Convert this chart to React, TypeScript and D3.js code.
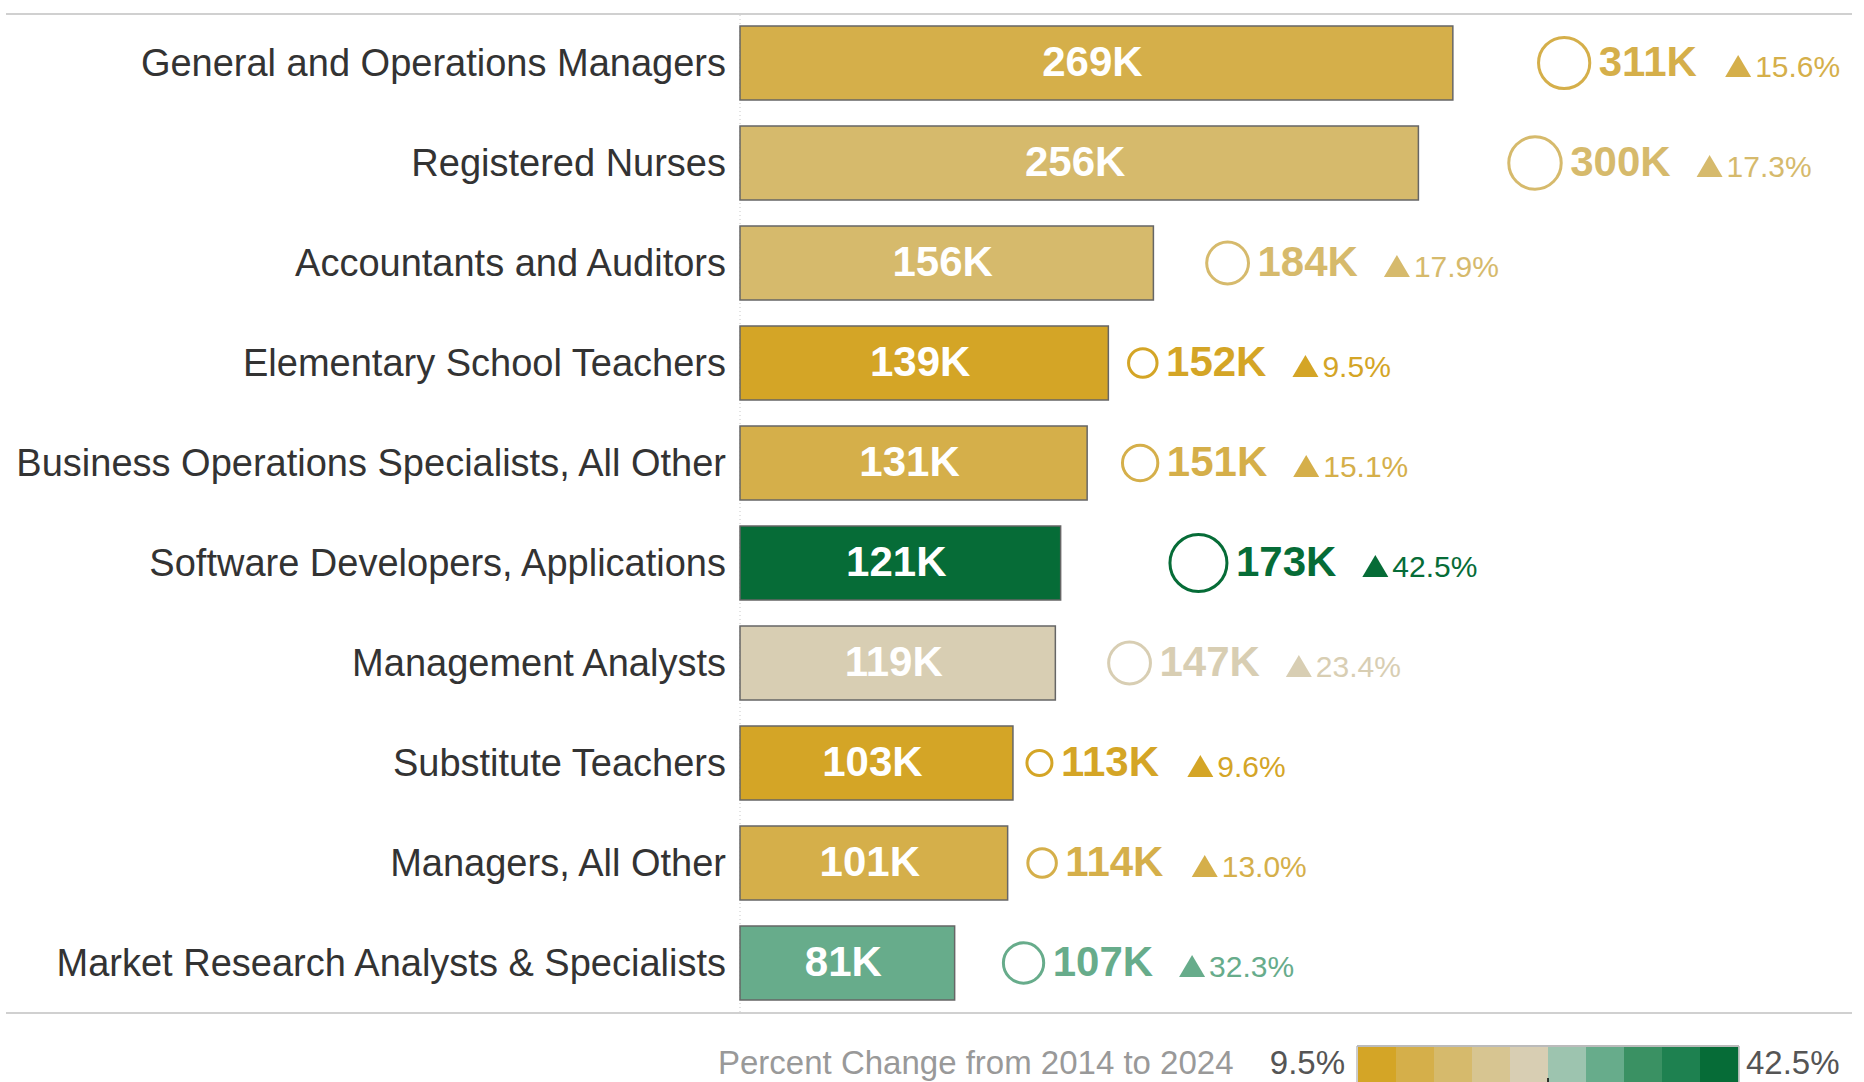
import React from "react";
import * as d3 from "d3";

const categories = [
  "General and Operations Managers",
  "Registered Nurses",
  "Accountants and Auditors",
  "Elementary School Teachers",
  "Business Operations Specialists, All Other",
  "Software Developers, Applications",
  "Management Analysts",
  "Substitute Teachers",
  "Managers, All Other",
  "Market Research Analysts & Specialists",
];
const jobs2014 = [269, 256, 156, 139, 131, 121, 119, 103, 101, 81];
const jobs2024 = [311, 300, 184, 152, 151, 173, 147, 113, 114, 107];
const pctChange = [15.6, 17.3, 17.9, 9.5, 15.1, 42.5, 23.4, 9.6, 13.0, 32.3];
const legendColors = [
  "#D4A526", "#D5AF4A", "#D6BA6C", "#D7C591", "#D8CEB3",
  "#9DC4AF", "#67AC8B", "#3A9163", "#1E8150", "#066C37",
];
const legendMin = 9.5;
const legendMax = 42.5;
const legendTitle = "Percent Change from 2014 to 2024";

const W = 1864;
const H = 1082;
const FONT = "'Liberation Sans', Arial, Helvetica, sans-serif";

export default function App() {
  const x0 = 740;
  const x = d3.scaleLinear().domain([0, 311]).range([x0, x0 + 311 * 2.65]);
  const y = d3.scaleBand<string>().domain(categories).range([13, 1013]).paddingInner(0.26).paddingOuter(0.13);
  const color = d3.scaleQuantize<string>().domain([legendMin, legendMax]).range(legendColors);
  const changes = jobs2024.map((v, i) => v - jobs2014[i]);
  const rScale = d3.scaleSqrt().domain([0, 52]).range([0, 28.5]);

  const labelFs = 38;
  const valFs = 42;
  const pctFs = 30;
  const valW = (s: string) => {
    let w = 0;
    for (const ch of s) w += ch === "K" ? 0.722 : 0.556;
    return w * valFs;
  };

  const legX = d3.scaleLinear().domain([0, legendColors.length]).range([1358, 1738]);

  return (
    <svg width={W} height={H} style={{ position: "absolute", left: 0, top: 0, background: "#fff" }} fontFamily={FONT}>
      <rect x={0} y={0} width={W} height={H} fill="#fff" />
      <line x1={6} x2={1852} y1={14} y2={14} stroke="#d0d0d0" strokeWidth={2} />
      <line x1={6} x2={1852} y1={1013} y2={1013} stroke="#d0d0d0" strokeWidth={2} />
      <line x1={x0} x2={x0} y1={15} y2={1012} stroke="#c8c8c8" strokeWidth={1} strokeDasharray="1,3" />
      {categories.map((c, i) => {
        const yy = y(c)!;
        const bw = y.bandwidth();
        const cy = yy + bw / 2;
        const col = color(pctChange[i]);
        const cx = x(jobs2024[i]);
        const r = rScale(changes[i]);
        const lbl = `${jobs2024[i]}K`;
        const tx = cx + r + 9;
        const triX = tx + valW(lbl) + 26;
        const baseY = cy + 13;
        return (
          <g key={c}>
            <text x={x0 - 14} y={cy + 12.5} textAnchor="end" fontSize={labelFs} fill="#333">{c}</text>
            <rect x={x0} y={yy} width={x(jobs2014[i]) - x0} height={bw} fill={col} stroke="#666" strokeWidth={1.5} />
            <text x={(x0 + x(jobs2014[i])) / 2 - 4} y={baseY} textAnchor="middle" fontSize={valFs} fontWeight="bold" fill="#fff">{`${jobs2014[i]}K`}</text>
            <circle cx={cx} cy={cy} r={r} fill="none" stroke={col} strokeWidth={3} />
            <text x={tx} y={baseY} fontSize={valFs} fontWeight="bold" fill={col}>{lbl}</text>
            <path d={`M${triX},${baseY + 1} L${triX + 26},${baseY + 1} L${triX + 13},${baseY - 21} Z`} fill={col} />
            <text x={triX + 30} y={baseY + 1} fontSize={pctFs} fill={col}>{`${pctChange[i].toFixed(1)}%`}</text>
          </g>
        );
      })}
      <text x={718} y={1074} fontSize={33} fill="#999">{legendTitle}</text>
      <text x={1345} y={1074} fontSize={33} fill="#555" textAnchor="end">{`${legendMin}%`}</text>
      {legendColors.map((c, i) => (
        <rect key={c} x={legX(i)} y={1047} width={legX(i + 1) - legX(i) + 0.5} height={40} fill={c} />
      ))}
      <line x1={1357} x2={1739} y1={1046} y2={1046} stroke="#bbb" strokeWidth={2} />
      <line x1={1357} x2={1357} y1={1046} y2={1082} stroke="#bbb" strokeWidth={1.5} />
      <line x1={1739} x2={1739} y1={1046} y2={1082} stroke="#bbb" strokeWidth={1.5} />
      <line x1={legX(5)} x2={legX(5)} y1={1078} y2={1082} stroke="#000" strokeWidth={1.5} />
      <text x={1746} y={1074} fontSize={33} fill="#555">{`${legendMax}%`}</text>
    </svg>
  );
}
